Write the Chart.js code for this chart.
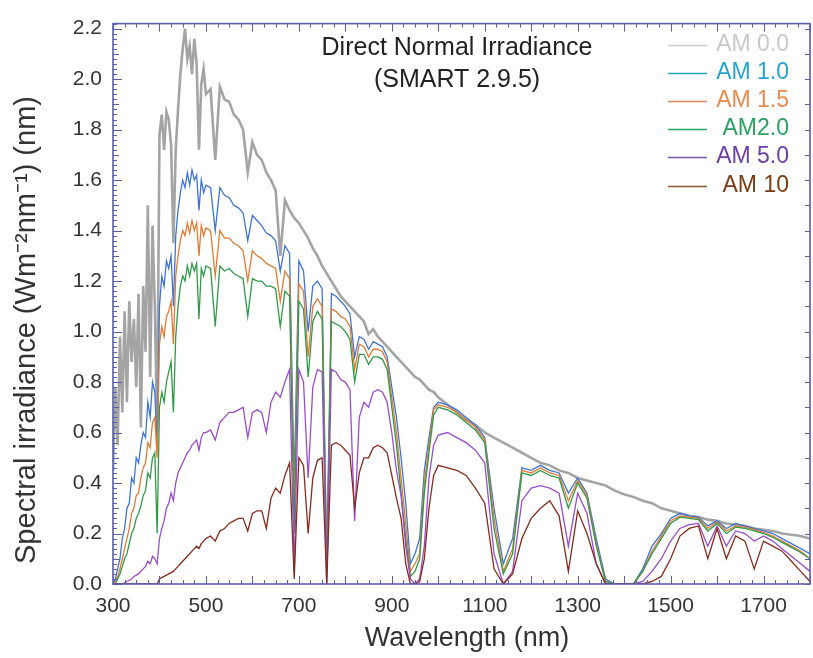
<!DOCTYPE html>
<html><head><meta charset="utf-8">
<script src="https://cdn.jsdelivr.net/npm/chart.js@4.4.1/dist/chart.umd.min.js"></script>
<style>html,body{margin:0;padding:0;background:#fff;}#wrap{width:813px;height:658px;}</style>
</head><body><div id="wrap"><canvas id="c" width="813" height="658"></canvas></div>
<script>
const wavelengths = [
300,305,310,315,320,325,330,335,340,345,350,355,360,365,370,375,380,385,390,395,
400,405,410,415,420,425,430,435,440,445,450,455,460,465,470,475,480,485,490,495,500,
510,520,530,540,550,560,570,580,590,600,610,620,630,640,650,660,670,680,690,700,
710,720,730,740,750,760,770,780,790,800,810,820,830,840,850,860,870,880,890,900,
910,920,930,940,950,960,970,980,990,1000,
1020,1040,1060,1080,1100,1120,1140,1160,1180,1200,1220,1240,1260,1280,1300,1320,1340,1360,1380,1400,
1420,1440,1460,1480,1500,1520,1540,1560,1580,1600,1620,1640,1660,1680,1700,1720,1740,1760,1780,1800];

const am00 = [
0.45,0.78,0.55,0.98,0.68,1.08,0.72,1.12,0.88,1.05,0.78,1.15,0.62,1.18,0.92,1.50,0.82,1.42,1.10,0.60,
1.78,1.86,1.72,1.87,1.84,1.74,1.35,1.72,1.88,2.02,2.12,2.20,2.08,2.13,2.02,2.16,2.06,1.72,1.98,2.04,1.94,
1.96,1.68,1.97,1.92,1.91,1.86,1.84,1.80,1.63,1.75,1.70,1.68,1.63,1.60,1.56,1.30,1.52,1.48,1.45,1.43,
1.40,1.37,1.33,1.30,1.26,1.23,1.20,1.17,1.14,1.12,1.10,1.08,1.06,1.04,0.99,1.01,0.98,0.96,0.94,0.92,
0.90,0.88,0.86,0.84,0.82,0.81,0.79,0.77,0.76,0.74,
0.71,0.68,0.65,0.63,0.60,0.58,0.56,0.54,0.52,0.50,0.48,0.47,0.45,0.44,0.42,0.41,0.40,0.39,0.37,0.355,
0.345,0.33,0.32,0.30,0.29,0.28,0.27,0.265,0.255,0.25,0.24,0.235,0.23,0.22,0.215,0.21,0.20,0.195,0.19,0.18];

const am10 = [
0.00,0.02,0.06,0.10,0.18,0.22,0.30,0.32,0.42,0.40,0.50,0.48,0.55,0.60,0.58,0.72,0.66,0.80,0.76,0.55,
1.10,1.22,1.18,1.28,1.25,1.30,1.10,1.38,1.48,1.55,1.60,1.57,1.63,1.58,1.64,1.60,1.62,1.48,1.60,1.55,1.58,
1.57,1.40,1.57,1.54,1.53,1.50,1.49,1.47,1.36,1.46,1.44,1.42,1.39,1.38,1.36,1.24,1.34,1.31,0.40,1.28,
1.24,1.00,1.18,1.20,1.17,0.10,1.15,1.14,1.12,1.10,1.07,0.90,0.98,0.97,0.93,0.96,0.95,0.94,0.90,0.78,
0.66,0.50,0.32,0.08,0.12,0.18,0.45,0.58,0.70,0.72,
0.71,0.69,0.66,0.63,0.58,0.30,0.08,0.18,0.46,0.45,0.47,0.45,0.44,0.36,0.42,0.36,0.18,0.02,0.00,0.00,
0.00,0.06,0.15,0.20,0.26,0.28,0.27,0.265,0.23,0.25,0.22,0.24,0.23,0.22,0.21,0.20,0.18,0.16,0.14,0.12];

const am15 = [
0.00,0.01,0.03,0.06,0.10,0.14,0.18,0.22,0.28,0.30,0.35,0.36,0.42,0.46,0.48,0.56,0.54,0.64,0.66,0.50,
0.95,1.02,0.98,1.06,1.08,1.12,0.95,1.22,1.30,1.36,1.40,1.38,1.43,1.39,1.44,1.40,1.43,1.30,1.42,1.38,1.41,
1.40,1.22,1.40,1.37,1.37,1.35,1.34,1.32,1.20,1.32,1.30,1.29,1.27,1.26,1.25,1.12,1.24,1.21,0.30,1.19,
1.16,0.90,1.10,1.13,1.10,0.06,1.09,1.08,1.06,1.05,1.02,0.85,0.95,0.94,0.90,0.93,0.93,0.92,0.88,0.74,
0.60,0.42,0.24,0.05,0.08,0.12,0.40,0.55,0.69,0.71,
0.70,0.68,0.65,0.62,0.57,0.26,0.05,0.14,0.45,0.44,0.46,0.44,0.43,0.33,0.41,0.35,0.16,0.01,0.00,0.00,
0.00,0.05,0.13,0.19,0.25,0.27,0.265,0.26,0.22,0.245,0.21,0.23,0.225,0.215,0.205,0.19,0.17,0.15,0.13,0.10];

const am20 = [
0.00,0.00,0.02,0.04,0.07,0.10,0.12,0.16,0.20,0.22,0.26,0.28,0.31,0.35,0.37,0.44,0.42,0.50,0.52,0.20,
0.70,0.76,0.72,0.80,0.84,0.88,0.68,0.98,1.10,1.18,1.22,1.20,1.26,1.22,1.27,1.24,1.27,1.05,1.25,1.22,1.26,
1.25,1.02,1.26,1.24,1.25,1.23,1.22,1.21,1.06,1.21,1.20,1.20,1.18,1.18,1.17,1.02,1.16,1.14,0.20,1.12,
1.09,0.82,1.04,1.08,1.05,0.04,1.04,1.03,1.02,1.00,0.97,0.80,0.91,0.91,0.87,0.90,0.90,0.89,0.85,0.70,
0.55,0.36,0.18,0.03,0.05,0.10,0.36,0.52,0.67,0.70,
0.69,0.67,0.64,0.61,0.56,0.22,0.04,0.12,0.44,0.43,0.45,0.43,0.42,0.30,0.40,0.34,0.15,0.01,0.00,0.00,
0.00,0.05,0.12,0.18,0.24,0.265,0.26,0.255,0.21,0.24,0.20,0.225,0.22,0.21,0.20,0.185,0.165,0.145,0.125,0.10];

const am50 = [
0,0,0,0,0,0.005,0.01,0.015,0.02,0.03,0.035,0.04,0.05,0.06,0.07,0.09,0.08,0.11,0.10,0.08,
0.18,0.22,0.25,0.30,0.32,0.36,0.33,0.40,0.44,0.46,0.48,0.50,0.52,0.53,0.55,0.56,0.57,0.53,0.58,0.60,0.60,
0.61,0.57,0.64,0.66,0.68,0.68,0.69,0.70,0.58,0.68,0.69,0.68,0.60,0.72,0.76,0.74,0.80,0.85,0.05,0.85,
0.80,0.42,0.78,0.85,0.84,0.00,0.85,0.84,0.81,0.80,0.77,0.25,0.66,0.72,0.70,0.76,0.77,0.76,0.72,0.60,
0.45,0.35,0.15,0.02,0.00,0.02,0.15,0.42,0.55,0.59,
0.60,0.58,0.56,0.53,0.48,0.12,0.00,0.05,0.33,0.38,0.39,0.38,0.36,0.15,0.36,0.28,0.08,0.00,0.00,0.00,
0.00,0.01,0.05,0.10,0.17,0.22,0.235,0.24,0.15,0.23,0.15,0.21,0.20,0.17,0.19,0.17,0.14,0.11,0.08,0.05];

const am100 = [
0,0,0,0,0,0,0,0,0,0,0,0,0,0,0,0,0,0,0,0,
0.02,0.025,0.03,0.035,0.04,0.045,0.05,0.06,0.07,0.08,0.09,0.10,0.11,0.12,0.13,0.14,0.15,0.14,0.16,0.17,0.18,
0.19,0.17,0.21,0.22,0.24,0.25,0.26,0.26,0.21,0.28,0.29,0.29,0.22,0.34,0.38,0.36,0.43,0.48,0.02,0.50,
0.47,0.20,0.42,0.49,0.50,0.00,0.55,0.56,0.55,0.53,0.51,0.30,0.44,0.50,0.50,0.54,0.55,0.54,0.52,0.43,
0.34,0.26,0.08,0.00,0.00,0.01,0.10,0.30,0.43,0.47,
0.46,0.45,0.43,0.38,0.32,0.06,0.00,0.04,0.18,0.26,0.30,0.33,0.27,0.05,0.29,0.20,0.08,0.00,0.00,0.00,
0.00,0.00,0.01,0.03,0.10,0.19,0.22,0.23,0.10,0.22,0.10,0.19,0.17,0.06,0.17,0.15,0.13,0.09,0.05,0.01];

const seriesNames = ['AM 0.0','AM 1.0','AM 1.5','AM2.0','AM 5.0','AM 10'];
const seriesValues = [am00, am10, am15, am20, am50, am100];
const lineColors = ['#a4a4a4','#3f74d2','#e27b34','#2f9a48','#9a4ccb','#862a1c'];
const lineWidths = [2.6,1.3,1.3,1.3,1.3,1.3];
const legendLineColors = ['#c9c9c9','#22a7c9','#e9875a','#27a564','#7b55aa','#8a5a36'];
const legendTextColors = ['#c8c8c8','#25a3cf','#e98a4e','#2a9f62','#6b3ea5','#7a3c14'];
const yTicks = [0,0.2,0.4,0.6,0.8,1.0,1.2,1.4,1.6,1.8,2.0,2.2];
const xTicks = [300,500,700,900,1100,1300,1500,1700];
const titleLines = ['Direct Normal Irradiance','(SMART 2.9.5)'];
const yTitle = 'Spectral irradiance (Wm\u207B\u00B2nm\u207B\u00B9) (nm)';
const xTitle = 'Wavelength (nm)';
const FONT = "'Liberation Sans', Arial, Helvetica, sans-serif";
const frameColor = '#5a5ea8';

const datasets = seriesValues.map((vals, k) => ({
  label: seriesNames[k],
  data: wavelengths.map((w, i) => ({x: w, y: vals[i]})),
  borderColor: lineColors[k],
  borderWidth: lineWidths[k],
  pointRadius: 0,
  tension: 0,
  fill: false,
  order: 5 - k
}));

const framePlugin = {
  id: 'frame',
  afterDatasetsDraw(chart) {
    const {ctx, chartArea: {left, right, top, bottom}, scales: {x, y}} = chart;
    ctx.save();
    ctx.strokeStyle = frameColor;
    ctx.lineWidth = 1;
    ctx.beginPath();
    for (let i = 0; i <= 111; i++) {
      const py = Math.round(y.getPixelForValue(i * 0.02)) + 0.5;
      const len = i % 10 === 0 ? 9 : (i % 5 === 0 ? 6 : 4);
      ctx.moveTo(left, py); ctx.lineTo(left + len, py);
    }
    for (let i = 0; i <= 22; i++) {
      const py = Math.round(y.getPixelForValue(i * 0.1)) + 0.5;
      ctx.moveTo(right, py); ctx.lineTo(right - 5, py);
    }
    for (let i = 0; i <= 60; i++) {
      const nm = 300 + i * 25;
      const px = Math.round(x.getPixelForValue(nm)) + 0.5;
      const len = nm % 100 === 0 ? 8 : 4;
      ctx.moveTo(px, bottom); ctx.lineTo(px, bottom - len);
      ctx.moveTo(px, top); ctx.lineTo(px, top + len);
    }
    ctx.stroke();
    ctx.lineWidth = 1.6;
    ctx.strokeRect(left, top, right - left, bottom - top);
    ctx.restore();
  }
};

const textPlugin = {
  id: 'texts',
  afterDraw(chart) {
    const {ctx} = chart;
    ctx.save();
    ctx.font = '25px ' + FONT;
    ctx.fillStyle = '#222';
    ctx.textAlign = 'center';
    ctx.textBaseline = 'middle';
    ctx.fillText(titleLines[0], 457, 48);
    ctx.fillText(titleLines[1], 457, 80);
    // y-axis title
    ctx.save();
    ctx.translate(27, 330);
    ctx.rotate(-Math.PI / 2);
    ctx.font = '29px ' + FONT;
    ctx.fillStyle = '#333';
    ctx.fillText(yTitle, 0, 0);
    ctx.restore();
    // x-axis title
    ctx.font = '27px ' + FONT;
    ctx.fillStyle = '#333';
    ctx.fillText(xTitle, 467, 639);
    // legend
    ctx.font = '23px ' + FONT;
    ctx.textAlign = 'right';
    const rowY = [45, 73, 101, 129, 157, 186];
    seriesNames.forEach((name, k) => {
      ctx.strokeStyle = legendLineColors[k];
      ctx.lineWidth = 1.6;
      ctx.beginPath();
      ctx.moveTo(668, rowY[k] + 0.5); ctx.lineTo(707, rowY[k] + 0.5);
      ctx.stroke();
      ctx.fillStyle = legendTextColors[k];
      ctx.fillText(name, 789, rowY[k]);
    });
    ctx.restore();
  }
};

new Chart(document.getElementById('c'), {
  type: 'line',
  data: {datasets},
  options: {
    responsive: false,
    animation: false,
    devicePixelRatio: 1,
    layout: {padding: {top: 15, right: 3, left: 0, bottom: 0}},
    plugins: {legend: {display: false}, tooltip: {enabled: false}, title: {display: false}},
    scales: {
      x: {
        type: 'linear', min: 300, max: 1800,
        afterBuildTicks: s => { s.ticks = xTicks.map(v => ({value: v})); },
        afterFit: s => { s.height = 74; },
        grid: {display: false, drawTicks: false},
        border: {display: false},
        ticks: {autoSkip: false, maxRotation: 0, padding: 10, color: '#333',
                font: {family: FONT, size: 21}, callback: v => String(v)}
      },
      y: {
        type: 'linear', min: 0, max: 2.22,
        afterBuildTicks: s => { s.ticks = yTicks.map(v => ({value: v})); },
        afterFit: s => { s.width = 113; },
        grid: {display: false, drawTicks: false},
        border: {display: false},
        ticks: {padding: 11, color: '#333', font: {family: FONT, size: 21},
                callback: v => Number(v).toFixed(1)}
      }
    }
  },
  plugins: [framePlugin, textPlugin]
});
</script>
</body></html>
